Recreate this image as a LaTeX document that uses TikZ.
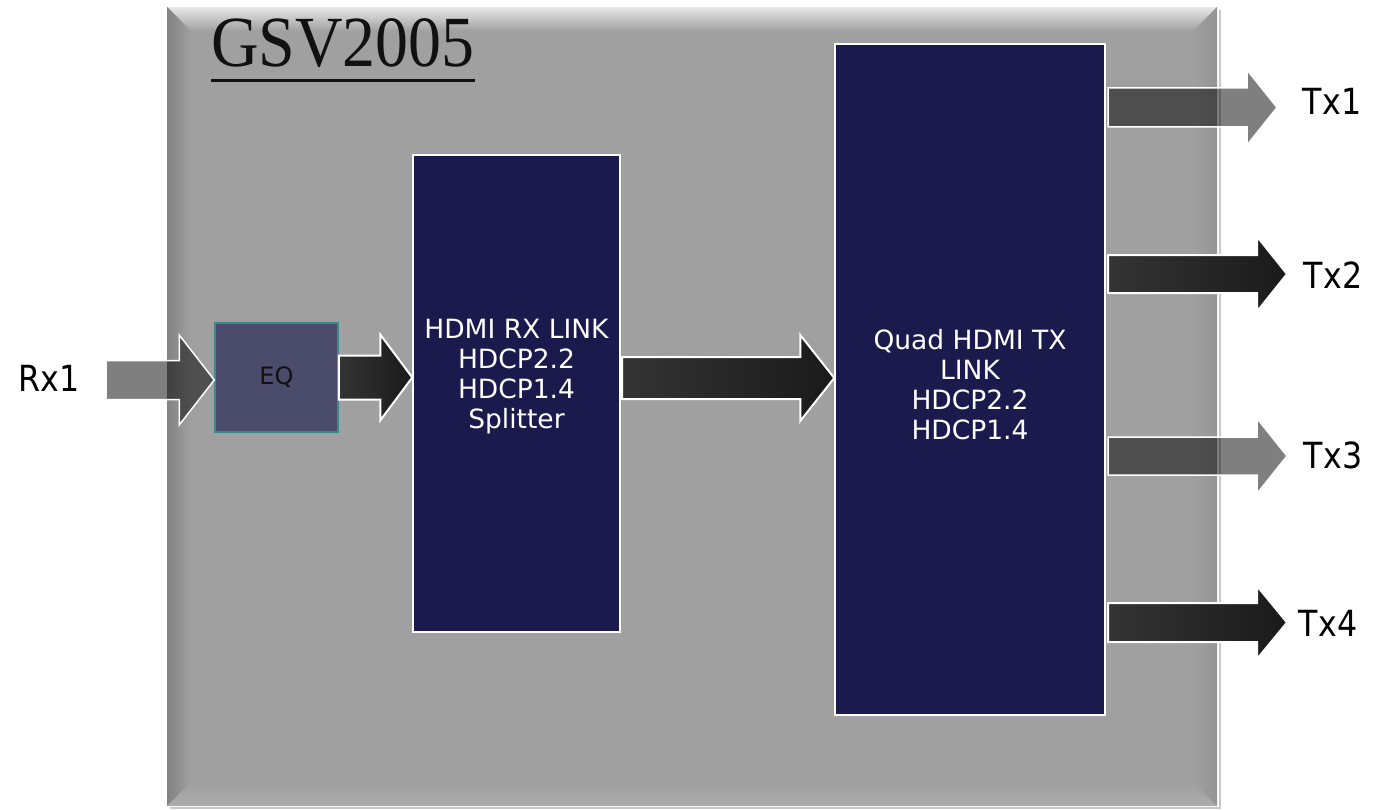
\documentclass[tikz,border=0pt]{standalone}
\usepackage{fontspec}
\setmainfont{DejaVu Sans}
\newfontfamily\titlefont[FakeStretch=0.915]{Liberation Serif}
\newfontfamily\lblfont[FakeStretch=0.88]{DejaVu Sans}
\usetikzlibrary{calc}
\definecolor{navy}{HTML}{1B1A4C}
\definecolor{chipgray}{HTML}{A0A0A0}
\definecolor{eqfill}{HTML}{4B4C6B}
\definecolor{eqborder}{HTML}{3A8C8A}
\definecolor{darkA}{HTML}{343434}
\definecolor{darkB}{HTML}{1A1A1A}
\definecolor{inktext}{HTML}{111111}
\newcommand{\blockarrow}[6]{%
  \path[#6] let \p1=(#1), \p2=(#2) in
  (\x1,\y1+#3) -- (\x2-#5,\y1+#3) -- (\x2-#5,\y1+#4) -- (\x2,\y1)
  -- (\x2-#5,\y1-#4) -- (\x2-#5,\y1-#3) -- (\x1,\y1-#3) -- cycle;}
\begin{document}
\begin{tikzpicture}[x=1pt,y=-1pt,
  chipbox/.style={fill=chipgray, draw=none, inner sep=0pt},
  bluebox/.style={fill=navy, draw=white, line width=1.5pt, inner sep=0pt},
  eqbox/.style={fill=eqfill, draw=eqborder, line width=1.5pt, inner sep=0pt,
    text=inktext, font=\fontsize{24}{28}\selectfont},
  boxtext/.style={text=white, align=center, inner sep=0pt,
    font=\fontsize{26.5}{30}\selectfont},
  lbl/.style={text=black, inner sep=0pt, font=\lblfont\fontsize{36}{40}\selectfont},
  transarrow/.style={fill=black, fill opacity=0.5, draw=white, line width=1.5pt, line join=miter},
  darkarrow/.style={left color=darkA, right color=darkB, draw=white, line width=2pt, line join=miter}]
\useasboundingbox (0,0) rectangle (1388,810);
% shadow
\draw[color={rgb,255:red,200;green,200;blue,200}, line width=2pt] (1219.5,10) -- (1219.5,808) -- (170,808);
% chip body
\node[chipbox, minimum width=1050pt, minimum height=799pt] (chip) at (692,406.5) {};
\path[top color={rgb,255:red,232;green,232;blue,232}, bottom color=chipgray]
  (167,7) -- (1217,7) -- (1193,31) -- (191,31) -- cycle;
\path[left color={rgb,255:red,130;green,130;blue,130}, right color=chipgray]
  (167,7) -- (191,31) -- (191,782) -- (167,806) -- cycle;
\path[top color=chipgray, bottom color={rgb,255:red,172;green,172;blue,172}]
  (167,806) -- (191,782) -- (1193,782) -- (1217,806) -- cycle;
\path[left color=chipgray, right color={rgb,255:red,148;green,148;blue,148}]
  (1217,7) -- (1193,31) -- (1193,782) -- (1217,806) -- cycle;
% title
\node[font=\titlefont\fontsize{72}{72}\selectfont, text=inktext, inner sep=0pt] (title) at (343,43.5) {GSV2005};
\draw[inktext, line width=3pt] ([yshift=-12pt]title.south west) -- ([yshift=-12pt]title.south east);
% blocks
\node[eqbox, minimum width=123pt, minimum height=109pt] (eq) at (276.5,377.5) {EQ};
\node[bluebox, minimum width=207pt, minimum height=477pt] (rx) at (516.5,393.5) {};
\node[boxtext] (rxtext) at (516.5,377) {HDMI RX LINK\\HDCP2.2\\HDCP1.4\\Splitter};
\node[bluebox, minimum width=270pt, minimum height=671pt] (quad) at (970,379.5) {};
\node[boxtext] (quadtext) at (970,385) {Quad HDMI TX\\LINK\\HDCP2.2\\HDCP1.4};
% labels
\node[lbl] (rx1) at (49,378.5) {Rx1};
\node[lbl] (tx1) at (1332,101.5) {Tx1};
\node[lbl] (tx2) at (1333,275) {Tx2};
\node[lbl] (tx3) at (1333,455) {Tx3};
\node[lbl] (tx4) at (1328,623) {Tx4};
% arrow ends
\coordinate (rxin) at (106,380);
\coordinate (bigs) at (622,378);
\coordinate (t1s) at (1108,107.5);
\coordinate (t1e) at (1277,107.5);
\coordinate (t2s) at (1108,274);
\coordinate (t2e) at (1287,274);
\coordinate (t3s) at (1108,456);
\coordinate (t3e) at (1287,456);
\coordinate (t4s) at (1108,622.5);
\coordinate (t4e) at (1287,622.5);
% arrows
\blockarrow{rxin}{eq.west}{19.5pt}{45pt}{35pt}{transarrow}
\blockarrow{eq.east}{rx.west}{22pt}{43pt}{32pt}{darkarrow}
\blockarrow{bigs}{quad.west}{21pt}{43pt}{34pt}{darkarrow}
\blockarrow{t1s}{t1e}{19.5pt}{37.5pt}{30pt}{transarrow}
\blockarrow{t2s}{t2e}{19pt}{37.5pt}{30pt}{darkarrow}
\blockarrow{t3s}{t3e}{19pt}{37.5pt}{30pt}{transarrow}
\blockarrow{t4s}{t4e}{19.5pt}{36.5pt}{30pt}{darkarrow}
\end{tikzpicture}
\end{document}
